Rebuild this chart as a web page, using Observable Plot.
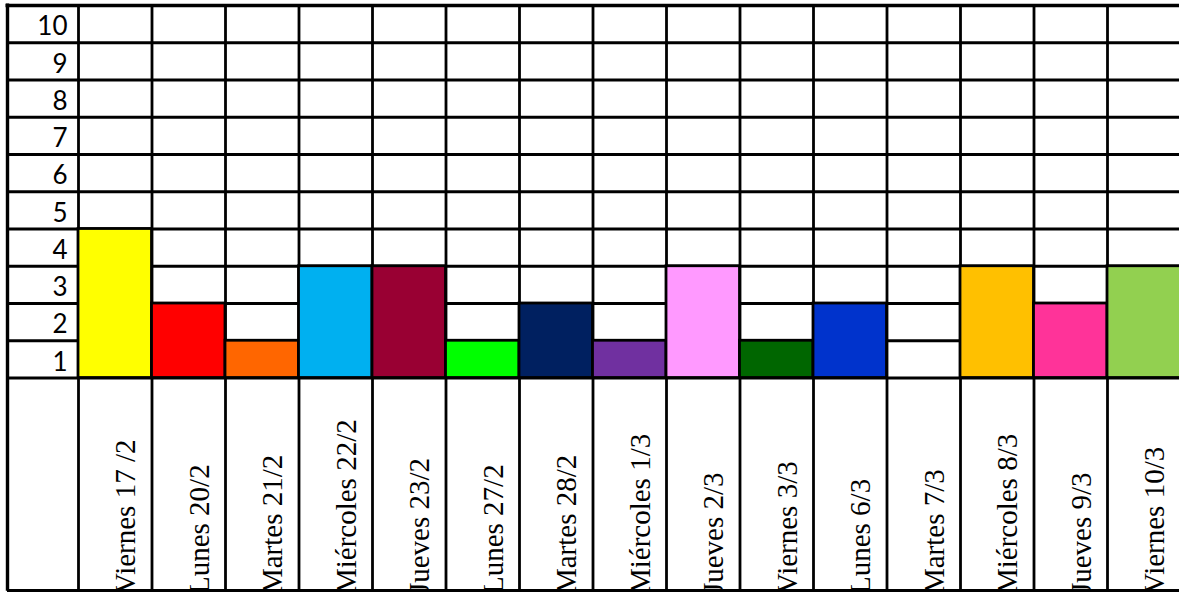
<!DOCTYPE html>
<html>
<head>
<meta charset="utf-8">
<script src="https://cdn.jsdelivr.net/npm/d3@7"></script>
<script src="https://cdn.jsdelivr.net/npm/@observablehq/plot@0.6"></script>
<style>
  html, body { margin: 0; padding: 0; background: #fff; }
  #chart svg { display: block; }
</style>
</head>
<body>
<div id="chart"></div>
<script>
const days = ["Viernes 17 /2", "Lunes 20/2", "Martes 21/2", "Miércoles 22/2", "Jueves 23/2",
  "Lunes 27/2", "Martes 28/2", "Miércoles 1/3", "Jueves 2/3", "Viernes 3/3",
  "Lunes 6/3", "Martes 7/3", "Miércoles 8/3", "Jueves 9/3", "Viernes 10/3"];
const values = [4, 2, 1, 3, 3, 1, 2, 1, 3, 1, 2, 0, 3, 2, 3];
const colors = ["#FFFF00", "#FF0000", "#FF6600", "#00B0F0", "#990033",
  "#00FF00", "#002060", "#7030A0", "#FF99FF", "#006600",
  "#0033CC", "#FFFFFF", "#FFC000", "#FF3399", "#92D050"];
const yTicks = [1, 2, 3, 4, 5, 6, 7, 8, 9, 10];

const data = days.map((d, i) => ({day: d, i, value: values[i], color: colors[i]}));
const colBounds = d3.range(0, days.length + 1);
const rowBounds = d3.range(0, 11);

// extents of the sheet (in data units)
const leftEdge = -71 / 73.5;   // label column left border
const bottomEdge = -5.705;     // label area bottom border
const labelStart = -5.8;

const chart = Plot.plot({
  width: 1179,
  height: 592,
  marginLeft: 0, marginRight: 0, marginTop: 0, marginBottom: 0,
  x: {type: "linear", domain: [0, 15], range: [78, 1180.5], axis: null},
  y: {type: "linear", domain: [0, 10], range: [377.5, 5], axis: null},
  marks: [
    // horizontal grid lines
    Plot.ruleY(rowBounds.filter(r => r < 10), {y: d => d, x1: leftEdge, x2: 15.2, stroke: "#000", strokeWidth: 2.8}),
    Plot.ruleY([10], {y: d => d, x1: leftEdge - 0.02, x2: 15.2, stroke: "#000", strokeWidth: 3.4}),
    Plot.ruleY([bottomEdge], {y: d => d, x1: leftEdge, x2: 15.2, stroke: "#000", strokeWidth: 2.8}),
    // vertical grid lines
    Plot.ruleX(colBounds, {x: d => d, y1: bottomEdge, y2: 10, stroke: "#000", strokeWidth: 2.8}),
    Plot.ruleX([leftEdge], {x: d => d, y1: bottomEdge - 0.02, y2: 10.04, stroke: "#000", strokeWidth: 3.4}),
    // bars
    Plot.rect(data.filter(d => d.value > 0), {
      x1: d => d.i, x2: d => d.i + 1, y1: 0, y2: d => d.value,
      fill: d => d.color, stroke: "#000", strokeWidth: 2.8
    }),
    // y tick labels
    Plot.text(yTicks, {
      x: 0, y: d => d - 0.5, text: d => String(d),
      textAnchor: "end", dx: -11, dy: 3,
      fontFamily: "Lato, 'Open Sans', sans-serif", fontSize: 26, fill: "#000"
    }),
    // rotated day labels
    Plot.text(data, {
      x: d => d.i + 0.5, y: labelStart, text: "day",
      rotate: -90, textAnchor: "start", lineAnchor: "bottom", dx: 20,
      fontFamily: "'Liberation Serif', 'DejaVu Serif', serif", fontSize: 29, fill: "#000"
    })
  ]
});
document.getElementById("chart").appendChild(chart);
</script>
</body>
</html>
